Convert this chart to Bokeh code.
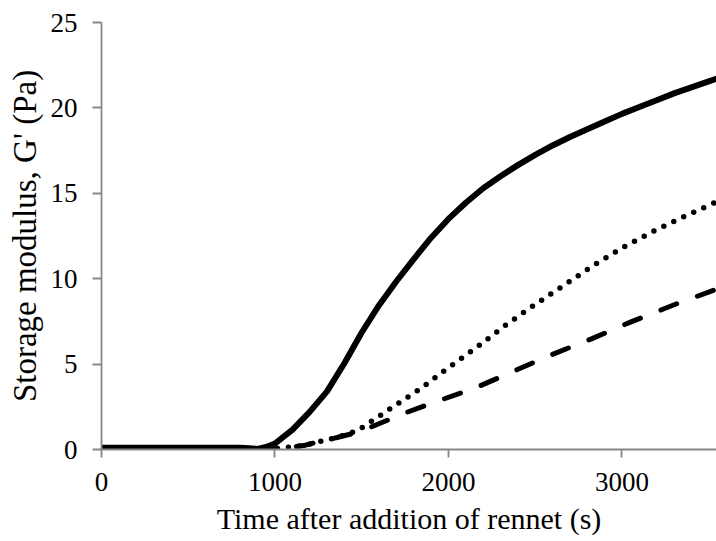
from bokeh.plotting import figure
from bokeh.models import Range1d, FixedTicker
from bokeh.embed import file_html
from bokeh.resources import INLINE

# Time after addition of rennet (s) and storage modulus G' (Pa)
solid_t = [0, 200, 400, 600, 800, 850, 900, 950, 1000, 1050, 1100, 1200, 1300, 1400, 1500,
           1600, 1700, 1800, 1900, 2000, 2100, 2200, 2300, 2400, 2500, 2600, 2700, 2800,
           2900, 3000, 3100, 3200, 3300, 3400, 3500, 3600]
solid_g = [0.1, 0.1, 0.1, 0.1, 0.1, 0.08, 0.03, 0.15, 0.35, 0.75, 1.15, 2.2, 3.4, 5.05, 6.85,
           8.45, 9.85, 11.15, 12.4, 13.5, 14.45, 15.3, 16.0, 16.65, 17.25, 17.8, 18.3, 18.75,
           19.2, 19.65, 20.05, 20.45, 20.85, 21.2, 21.55, 21.9]

dotted_t = [0, 500, 1000, 1050, 1166, 1250, 1358, 1474, 1608, 1740, 1839, 1992, 2165,
            2328, 2492, 2665, 2838, 3011, 3193, 3376, 3545, 3600]
dotted_g = [0.05, 0.05, 0.05, 0.1, 0.23, 0.45, 0.7, 1.1, 2.0, 2.9, 3.56, 4.73, 6.0,
            7.27, 8.44, 9.61, 10.79, 11.86, 12.84, 13.72, 14.5, 14.75]

dashed_t = [0, 500, 1000, 1050, 1166, 1250, 1358, 1474, 1550, 1740, 1896, 2165, 2386,
            2607, 2828, 3049, 3318, 3529, 3600]
dashed_g = [0.05, 0.05, 0.05, 0.1, 0.23, 0.45, 0.7, 1.0, 1.3, 2.1, 2.68, 3.65, 4.63,
            5.6, 6.49, 7.46, 8.54, 9.32, 9.6]

x_ticks = [0, 1000, 2000, 3000]
y_ticks = [0, 5, 10, 15, 20, 25]
x_title = "Time after addition of rennet (s)"
y_title = "Storage modulus, G' (Pa)"

FONT = "Liberation Serif"
AXIS_GRAY = "#868686"

p = figure(width=716, height=541, x_range=Range1d(0, 3545), y_range=Range1d(0, 25),
           output_backend="svg", toolbar_location=None,
           min_border_left=101, min_border_right=0, min_border_top=22, min_border_bottom=92)
p.outline_line_color = None
p.background_fill_color = "white"
p.border_fill_color = "white"
p.xgrid.visible = False
p.ygrid.visible = False

p.xaxis.ticker = FixedTicker(ticks=x_ticks)
p.yaxis.ticker = FixedTicker(ticks=y_ticks)
for ax in [p.xaxis[0], p.yaxis[0]]:
    ax.axis_line_color = AXIS_GRAY
    ax.axis_line_width = 1.8
    ax.major_tick_line_color = AXIS_GRAY
    ax.major_tick_line_width = 1.8
    ax.major_tick_in = 0
    ax.minor_tick_line_color = None
    ax.major_label_text_font = FONT
    ax.major_label_text_font_size = "27px"
    ax.major_label_text_color = "black"
    ax.axis_label_text_font = FONT
    ax.axis_label_text_font_style = "normal"
    ax.axis_label_text_color = "black"

p.xaxis.major_tick_out = 8
p.xaxis.major_label_standoff = 15
p.xaxis.axis_label = x_title
p.xaxis.axis_label_text_font_size = "30px"
p.xaxis.axis_label_standoff = 8
p.yaxis.major_tick_out = 9
p.yaxis.major_label_standoff = 15
p.yaxis.axis_label = y_title
p.yaxis.axis_label_text_font_size = "33px"
p.yaxis.axis_label_standoff = 5

p.line(dashed_t, dashed_g, line_color="black", line_width=5, line_dash="17 22", line_cap="round")
p.line(dotted_t, dotted_g, line_color="black", line_width=5.5, line_dash="0 11", line_cap="round")
p.line(solid_t, solid_g, line_color="black", line_width=6, line_cap="round", line_join="round")

open("out.html", "w").write(file_html(p, INLINE))
